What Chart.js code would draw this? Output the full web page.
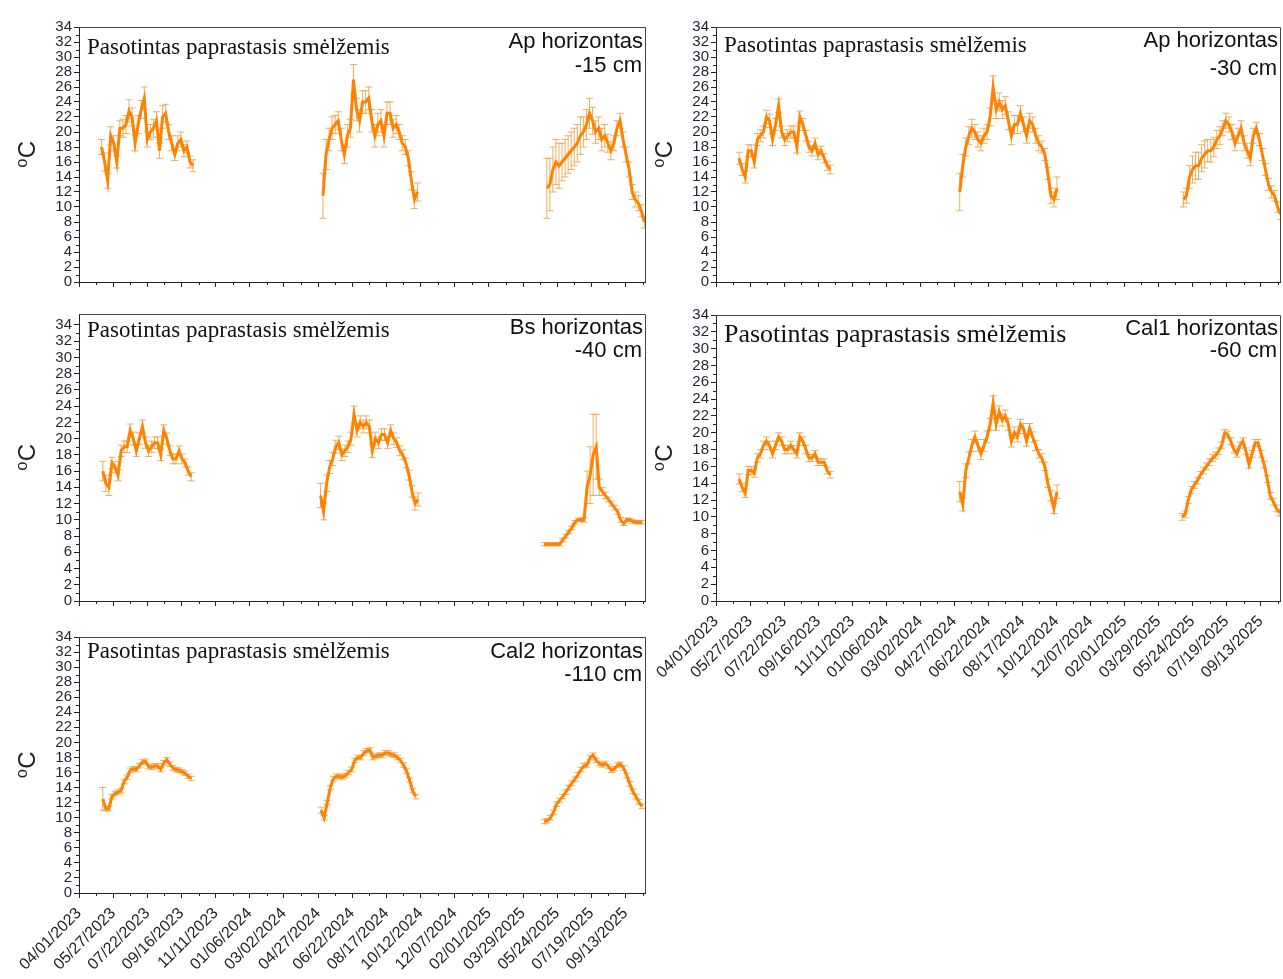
<!DOCTYPE html>
<html>
<head>
<meta charset="utf-8">
<script src="https://cdn.jsdelivr.net/npm/chart.js@4.4.1/dist/chart.umd.min.js"></script>
<style>
  html, body { margin: 0; padding: 0; background: #fff; width: 1283px; height: 979px; overflow: hidden; }
  canvas { position: absolute; }
</style>
</head>
<body>
<canvas id="p1"></canvas>
<canvas id="p2"></canvas>
<canvas id="p3"></canvas>
<canvas id="p4"></canvas>
<canvas id="p5"></canvas>
<script>
// datos: dienos vidurkiai (kas 5 d.) ir paklaidos, °C
const soilName = 'Pasotintas paprastasis smėlžemis';
const tickLabels = ['04/01/2023', '05/27/2023', '07/22/2023', '09/16/2023', '11/11/2023', '01/06/2024',
  '03/02/2024', '04/27/2024', '06/22/2024', '08/17/2024', '10/12/2024', '12/07/2024', '02/01/2025',
  '03/29/2025', '05/24/2025', '07/19/2025', '09/13/2025'];
const axisEnd = '10/15/2025';
const yTicks = [0, 2, 4, 6, 8, 10, 12, 14, 16, 18, 20, 22, 24, 26, 28, 30, 32, 34];
const sampleStep = 5; // dienos tarp taskų

// Ap horizontas -15 cm
const ap15Start = ['05/08/2023', '05/05/2024', '05/07/2025'];
const ap15_2023 = [18, 16, 13.5, 19.5, 18.5, 16, 20.5, 20.5, 21, 22.8, 22, 18.5, 21, 23, 24.5, 19, 20, 20.5, 21.5, 17.5, 22, 22.5, 20, 18.5, 17, 18.5, 19, 17.5, 18, 16, 15.5];
const ap15_2024 = [11.5, 17, 19, 20.5, 21, 21.5, 19, 17, 19.5, 20.5, 27, 23, 21.5, 24, 24, 24.5, 21.5, 19.5, 21, 21.5, 19.5, 22.5, 22.5, 20.5, 21, 20, 18.5, 18, 16.5, 13.5, 11, 12];
const ap15_2025 = [12.5, 13, 15, 16, 15.5, 16, 16.5, 17, 17.5, 18, 18.5, 19.5, 20, 21, 22.5, 21.5, 20, 20.5, 19, 19.5, 18.5, 17.5, 18.5, 20.5, 21.5, 19, 17, 15, 12, 11, 10.5, 9.5, 8];
const ap15Err2023 = [1, 1.2, 1, 1.2, 1, 0.8, 1, 1.2, 1.2, 1.5, 1.2, 1, 1.2, 1.2, 1.5, 1, 1, 1.2, 1.2, 1, 1.5, 1.2, 1, 1, 0.8, 1, 1, 0.8, 0.8, 0.8, 0.8];
const ap15Err2024 = [3, 2, 1.5, 1.5, 1.2, 1.2, 1.5, 1.2, 1.5, 1.2, 2, 1.5, 1.5, 1.5, 1.5, 1.5, 1.5, 1.5, 1.5, 1.5, 1.5, 1.5, 1.5, 1.2, 1.2, 1, 1, 1, 1, 1.2, 1.2, 1.2];
const ap15Err2025 = [4, 3.5, 3, 3, 3, 2.5, 2.5, 2.5, 2.5, 2.5, 2.5, 2.5, 2, 2, 2, 1.8, 1.5, 1.5, 1.5, 1.5, 1.2, 1.2, 1, 1, 1, 1, 1, 1, 1, 1, 1, 0.8, 0.8];

// Ap horizontas -30 cm
const ap30Start = ['05/09/2023', '05/06/2024', '05/09/2025'];
const ap30_2023 = [16.5, 15, 14, 17.5, 17.5, 16, 19, 19.5, 20, 22, 21.5, 19, 21, 23.5, 20, 19, 19.5, 20, 20, 18, 22, 21, 19.5, 18, 17.5, 18.5, 17, 17.5, 16.5, 15.5, 15];
const ap30_2024 = [12, 15.5, 18, 19.5, 20.5, 20, 19, 18.5, 19.5, 20, 22, 26, 23, 24, 23, 23.5, 21.5, 19.5, 21, 21, 22.5, 21, 19.5, 21.5, 21, 19.5, 18.5, 18, 17, 14.5, 11.5, 11, 12.5];
const ap30_2025 = [11, 11.5, 14, 15, 15.5, 15.5, 16.5, 17, 17.5, 17.5, 18, 19, 19.5, 20.5, 21.5, 21, 20, 18.5, 19.5, 20.5, 18.5, 17.5, 16.5, 19.5, 20.5, 19, 17, 15, 13, 12, 11.5, 10, 9];
const ap30Err2023 = [0.8, 0.8, 0.8, 0.8, 0.8, 0.8, 0.8, 0.8, 0.8, 0.9, 0.9, 0.8, 0.8, 0.9, 0.8, 0.8, 0.8, 0.8, 0.8, 0.8, 0.8, 0.8, 0.7, 0.7, 0.7, 0.7, 0.7, 0.6, 0.6, 0.6, 0.6];
const ap30Err2024 = [2.5, 1.5, 1.2, 1.2, 1.2, 1, 1, 1, 1, 1, 1.2, 1.5, 1.2, 1.2, 1.2, 1.2, 1.2, 1.2, 1.2, 1.2, 1, 1, 1, 1, 1, 1, 1, 0.8, 0.8, 0.8, 1, 1, 1.5];
const ap30Err2025 = [1, 1, 1.5, 1.8, 1.8, 1.8, 1.8, 1.8, 1.5, 1.5, 1.3, 1.2, 1.2, 1, 1, 1, 1, 1, 1, 1, 1, 1, 1, 1, 0.8, 0.8, 0.8, 0.8, 0.8, 0.8, 0.7, 0.7, 0.7];

// Bs horizontas -40 cm
const bs40Start = ['05/10/2023', '05/01/2024', '05/03/2025'];
const bs40_2023 = [16, 14.5, 14, 17, 16.5, 15.5, 18.5, 19, 19, 21, 20, 18.5, 20, 21.5, 19.5, 18.5, 19, 19.5, 19.5, 18, 21, 20, 18.5, 17.5, 17.5, 18.5, 17.5, 17, 16, 15.3];
const bs40_2024 = [13, 11, 14.5, 16.5, 17.5, 19, 19.5, 18, 18.5, 19, 20, 23, 21, 22, 21.5, 22, 21.5, 18.5, 20, 19.5, 20.5, 20.5, 19.5, 21, 20, 19.5, 18.5, 18, 17, 15.5, 13.5, 12, 12.5];
const bs40_2025 = [7, 7, 7, 7, 7, 7, 7.5, 8, 8.5, 9, 9.7, 10, 10, 10, 14, 15.5, 18, 19, 14, 13.5, 13, 12.5, 12, 11.5, 11, 10, 9.5, 10, 10, 9.8, 9.7, 9.7, 9.7];
const bs40Err2023 = [1.2, 1, 1, 0.7, 0.7, 0.7, 0.7, 0.7, 0.7, 0.8, 0.8, 0.7, 0.7, 0.8, 0.7, 0.7, 0.7, 0.7, 0.7, 0.7, 0.7, 0.7, 0.6, 0.6, 0.6, 0.6, 0.6, 0.5, 0.5, 0.5];
const bs40Err2024 = [1.5, 1, 1, 0.8, 0.8, 0.8, 0.8, 0.7, 0.7, 0.7, 0.8, 1, 0.8, 0.8, 0.8, 0.8, 0.8, 0.8, 0.8, 0.7, 0.7, 0.7, 0.7, 0.7, 0.7, 0.6, 0.6, 0.6, 0.6, 0.6, 0.7, 0.8, 0.8];
const bs40Err2025 = [0.2, 0.2, 0.2, 0.2, 0.2, 0.2, 0.2, 0.2, 0.2, 0.2, 0.2, 0.2, 0.2, 0.3, 2, 3.5, 5, 4, 1, 0.5, 0.4, 0.3, 0.3, 0.3, 0.3, 0.3, 0.2, 0.2, 0.2, 0.2, 0.2, 0.2, 0.2];

// Cal1 horizontas -60 cm
const cal60Start = ['05/09/2023', '05/06/2024', '05/07/2025'];
const cal60_2023 = [14.5, 13.5, 12.8, 15.5, 15.5, 15.2, 17, 17.5, 18.5, 19, 18.5, 17.5, 18.5, 19.5, 19, 18, 18, 18.5, 18, 17.5, 19.5, 19, 18, 17, 17, 17.5, 16.5, 16.5, 16.5, 15.5, 15];
const cal60_2024 = [13, 11.5, 15.5, 17, 18.5, 19.5, 18.5, 17.5, 18.5, 19.5, 21, 23.5, 21, 22.5, 21.5, 22, 21, 19, 20, 19.5, 21, 20.5, 19, 20.5, 19.5, 18.5, 17.5, 17, 16, 14, 12.5, 11, 13];
const cal60_2025 = [10, 10.3, 12, 13.2, 13.8, 14.3, 15, 15.5, 16, 16.5, 17, 17.3, 17.8, 18.5, 20, 19.8, 19, 18, 17.5, 18.5, 19, 17.8, 16.2, 17.5, 18.8, 18.8, 17.5, 16.2, 14.5, 12.5, 11.8, 11, 10.5];
const cal60Err2023 = [0.6, 0.5, 0.5, 0.5, 0.5, 0.5, 0.5, 0.5, 0.5, 0.5, 0.5, 0.5, 0.5, 0.5, 0.5, 0.5, 0.5, 0.5, 0.5, 0.5, 0.5, 0.5, 0.5, 0.4, 0.4, 0.4, 0.4, 0.4, 0.4, 0.4, 0.4];
const cal60Err2024 = [1.2, 0.8, 0.8, 0.7, 0.7, 0.7, 0.7, 0.7, 0.7, 0.7, 0.7, 0.9, 0.7, 0.7, 0.7, 0.7, 0.7, 0.7, 0.7, 0.6, 0.6, 0.6, 0.6, 0.6, 0.6, 0.6, 0.5, 0.5, 0.5, 0.5, 0.6, 0.6, 0.8];
const cal60Err2025 = [0.4, 0.4, 0.4, 0.4, 0.4, 0.4, 0.4, 0.4, 0.4, 0.4, 0.4, 0.4, 0.4, 0.4, 0.4, 0.4, 0.4, 0.4, 0.4, 0.4, 0.4, 0.4, 0.4, 0.4, 0.4, 0.4, 0.4, 0.4, 0.4, 0.4, 0.4, 0.4, 0.4];

// Cal2 horizontas -110 cm
const cal110Start = ['05/10/2023', '05/02/2024', '05/03/2025'];
const cal110_2023 = [12.5, 11.2, 11.2, 12.8, 13.2, 13.4, 13.6, 14.8, 15.4, 16.3, 16.5, 16.4, 16.9, 17.4, 17.5, 16.8, 16.7, 16.9, 16.9, 16.4, 17.3, 17.7, 17.1, 16.6, 16.4, 16.3, 16.1, 15.9, 15.5, 15.2];
const cal110_2024 = [11, 10, 12, 14, 15.2, 15.5, 15.5, 15.4, 15.6, 16, 16.4, 17.6, 18, 18, 18.6, 18.9, 19, 18, 18.2, 18.3, 18.3, 18.6, 18.6, 18.4, 18.3, 18, 17.6, 17, 16.2, 15, 13.6, 12.8];
const cal110_2025 = [9.5, 9.6, 10, 10.7, 11.8, 12.3, 12.8, 13.4, 14, 14.6, 15.1, 15.7, 16.4, 16.9, 17, 18, 18.3, 17.6, 17.2, 17, 17.2, 16.8, 16.3, 16.5, 17, 17.1, 16.6, 15.6, 14.5, 13.5, 12.8, 12.1, 11.5];
const cal110Err2023 = [1.5, 0.3, 0.3, 0.3, 0.3, 0.3, 0.3, 0.3, 0.3, 0.3, 0.3, 0.3, 0.3, 0.3, 0.3, 0.3, 0.3, 0.3, 0.3, 0.3, 0.3, 0.3, 0.3, 0.3, 0.3, 0.3, 0.3, 0.3, 0.3, 0.3];
const cal110Err2024 = [0.4, 0.3, 0.3, 0.3, 0.3, 0.3, 0.3, 0.3, 0.3, 0.3, 0.3, 0.3, 0.3, 0.3, 0.3, 0.3, 0.3, 0.3, 0.3, 0.3, 0.3, 0.3, 0.3, 0.3, 0.3, 0.3, 0.3, 0.3, 0.3, 0.3, 0.3, 0.3];
const cal110Err2025 = [0.3, 0.3, 0.3, 0.3, 0.3, 0.3, 0.3, 0.3, 0.3, 0.3, 0.3, 0.3, 0.3, 0.3, 0.3, 0.3, 0.3, 0.3, 0.3, 0.3, 0.3, 0.3, 0.3, 0.3, 0.3, 0.3, 0.3, 0.3, 0.3, 0.3, 0.3, 0.3, 0.3];

const lineColor = '#ff8200';
const errColor = 'rgba(236, 160, 70, 0.85)';
const axisColor = '#222';
const sansFont = '"Liberation Sans", Arial, sans-serif';
const serifFont = '"Liberation Serif", "Times New Roman", serif';

function dayOf(s) {
  const [m, d, y] = s.split('/').map(Number);
  return Math.round((Date.UTC(y, m - 1, d) - Date.UTC(2023, 3, 1)) / 864e5);
}
const tickDays = tickLabels.map(dayOf);
const xMax = dayOf(axisEnd);

// paneliai: plotų ribos puslapyje (px)
const panels = [
  { id: 'p1', box: { l: 79, t: 27, r: 645, b: 282 }, labels: false, yMax: 34,
    horizon: 'Ap horizontas', depth: '-15 cm', serifSize: 23, serifY: 27, l1Y: 21, l2Y: 45,
    starts: ap15Start, series: [ap15_2023, ap15_2024, ap15_2025], errs: [ap15Err2023, ap15Err2024, ap15Err2025] },
  { id: 'p2', box: { l: 716, t: 27, r: 1280, b: 282 }, labels: false, yMax: 34,
    horizon: 'Ap horizontas', depth: '-30 cm', serifSize: 23, serifY: 25, l1Y: 20, l2Y: 48,
    starts: ap30Start, series: [ap30_2023, ap30_2024, ap30_2025], errs: [ap30Err2023, ap30Err2024, ap30Err2025] },
  { id: 'p3', box: { l: 79, t: 314, r: 645, b: 601 }, labels: false, yMax: 35.35,
    horizon: 'Bs horizontas', depth: '-40 cm', serifSize: 23, serifY: 23, l1Y: 20, l2Y: 43,
    starts: bs40Start, series: [bs40_2023, bs40_2024, bs40_2025], errs: [bs40Err2023, bs40Err2024, bs40Err2025] },
  { id: 'p4', box: { l: 716, t: 315, r: 1280, b: 601 }, labels: true, yMax: 34,
    horizon: 'Cal1 horizontas', depth: '-60 cm', serifSize: 26, serifY: 27, l1Y: 20, l2Y: 42,
    starts: cal60Start, series: [cal60_2023, cal60_2024, cal60_2025], errs: [cal60Err2023, cal60Err2024, cal60Err2025] },
  { id: 'p5', box: { l: 79, t: 637, r: 645, b: 893 }, labels: true, yMax: 34,
    horizon: 'Cal2 horizontas', depth: '-110 cm', serifSize: 23, serifY: 21, l1Y: 21, l2Y: 44,
    starts: cal110Start, series: [cal110_2023, cal110_2024, cal110_2025], errs: [cal110Err2023, cal110Err2024, cal110Err2025] }
];

const yAxisW = 79, padTop = 12, padRight = 3;

const errorBars = {
  id: 'errorBars',
  beforeDatasetsDraw(chart) {
    const { ctx, chartArea: a, scales: { x, y } } = chart;
    ctx.save();
    ctx.beginPath();
    ctx.rect(a.left, a.top, a.right - a.left, a.bottom - a.top);
    ctx.clip();
    ctx.strokeStyle = errColor;
    ctx.lineWidth = 1;
    chart.data.datasets.forEach(ds => {
      ctx.beginPath();
      ds.data.forEach((p, i) => {
        const e = ds.err[i] ?? 0;
        const px = x.getPixelForValue(p.x);
        const y1 = y.getPixelForValue(p.y + e);
        const y2 = y.getPixelForValue(p.y - e);
        ctx.moveTo(px, y1); ctx.lineTo(px, y2);
        ctx.moveTo(px - 3.5, y1); ctx.lineTo(px + 3.5, y1);
        ctx.moveTo(px - 3.5, y2); ctx.lineTo(px + 3.5, y2);
      });
      ctx.stroke();
    });
    ctx.restore();
  }
};

const decor = {
  id: 'decor',
  afterDraw(chart, args, o) {
    const { ctx, chartArea: a, scales: { x, y } } = chart;
    ctx.save();
    ctx.strokeStyle = '#444';
    ctx.lineWidth = 1;
    ctx.beginPath();
    ctx.moveTo(a.left, a.top + 0.5);
    ctx.lineTo(a.right + 0.5, a.top + 0.5);
    ctx.lineTo(a.right + 0.5, a.bottom);
    ctx.stroke();
    // smulkios padalos
    ctx.strokeStyle = axisColor;
    ctx.beginPath();
    for (let v = 1; v < 34; v += 2) {
      const py = Math.round(y.getPixelForValue(v)) + 0.5;
      ctx.moveTo(a.left - 3, py); ctx.lineTo(a.left, py);
    }
    tickDays.forEach(d => {
      const m = d + 28;
      if (m > xMax) return;
      const px = Math.round(x.getPixelForValue(m)) + 0.5;
      ctx.moveTo(px, a.bottom); ctx.lineTo(px, a.bottom + 3);
    });
    ctx.stroke();
    // užrašai
    ctx.fillStyle = '#111';
    ctx.textBaseline = 'alphabetic';
    ctx.textAlign = 'left';
    ctx.font = o.serifSize + 'px ' + serifFont;
    ctx.fillText(soilName, a.left + 8, a.top + o.serifY);
    ctx.textAlign = 'right';
    ctx.font = '22px ' + sansFont;
    ctx.fillText(o.horizon, a.right - 2, a.top + o.l1Y);
    ctx.fillText(o.depth, a.right - 3, a.top + o.l2Y);
    ctx.restore();
  }
};

panels.forEach(p => {
  const xAxisH = p.labels ? 86 : 18;
  const cv = document.getElementById(p.id);
  const w = yAxisW + (p.box.r - p.box.l) + padRight;
  const h = padTop + (p.box.b - p.box.t) + xAxisH;
  cv.width = w; cv.height = h;
  cv.style.left = (p.box.l - yAxisW) + 'px';
  cv.style.top = (p.box.t - padTop) + 'px';

  new Chart(cv.getContext('2d'), {
    type: 'line',
    data: {
      datasets: p.series.map((vals, k) => ({
        data: vals.map((v, i) => ({ x: dayOf(p.starts[k]) + sampleStep * i, y: v })),
        err: p.errs[k],
        borderColor: lineColor,
        borderWidth: 3,
        pointRadius: 0,
        tension: 0,
        fill: false
      }))
    },
    options: {
      responsive: false,
      animation: false,
      devicePixelRatio: 1,
      layout: { padding: { top: padTop, right: padRight, left: 0, bottom: 0 } },
      plugins: {
        legend: { display: false },
        tooltip: { enabled: false },
        decor: { horizon: p.horizon, depth: p.depth, serifSize: p.serifSize, serifY: p.serifY, l1Y: p.l1Y, l2Y: p.l2Y }
      },
      scales: {
        x: {
          type: 'linear',
          min: 0,
          max: xMax,
          afterBuildTicks: s => { s.ticks = tickDays.map(v => ({ value: v })); },
          afterFit: s => { s.height = xAxisH; s.paddingLeft = 0; s.paddingRight = 0; },
          ticks: {
            display: p.labels,
            autoSkip: false,
            minRotation: 45,
            maxRotation: 45,
            padding: 6,
            color: '#222',
            font: { family: sansFont, size: 16 },
            callback: (v, i) => tickLabels[i]
          },
          grid: { drawOnChartArea: false, drawTicks: true, tickLength: 5, color: axisColor },
          border: { display: true, color: axisColor, width: 1 }
        },
        y: {
          min: 0,
          max: p.yMax,
          afterBuildTicks: s => { s.ticks = yTicks.map(v => ({ value: v })); },
          afterFit: s => { s.width = yAxisW; s.paddingTop = 0; s.paddingBottom = 0; },
          ticks: {
            autoSkip: false,
            padding: 2,
            color: '#1d2436',
            font: { family: sansFont, size: 15 },
            callback: v => String(v)
          },
          grid: { drawOnChartArea: false, drawTicks: true, tickLength: 5, color: axisColor },
          border: { display: true, color: axisColor, width: 1 },
          title: {
            display: true,
            text: '\u2070C',
            color: '#222',
            font: { family: sansFont + ', "DejaVu Sans"', size: 24 },
            padding: { top: 14, bottom: 0 }
          }
        }
      }
    },
    plugins: [errorBars, decor]
  });
});
</script>
</body>
</html>
